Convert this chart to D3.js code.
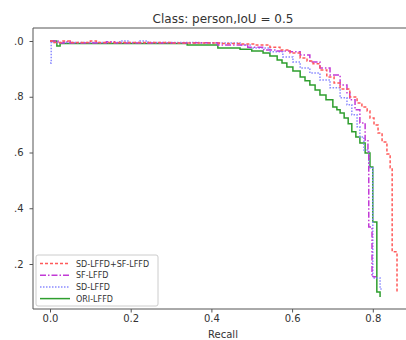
<!DOCTYPE html>
<html>
<head>
<meta charset="utf-8">
<script src="https://cdn.jsdelivr.net/npm/d3@7"></script>
<style>
  body { margin: 0; background: #fff; }
  svg { display: block; font-family: 'DejaVu Sans', sans-serif; }
</style>
</head>
<body>
<div class="main-content"></div>
<script>
// recall / precision pairs, drawn as steps
var seriesNames = ['SD-LFFD+SF-LFFD', 'SF-LFFD', 'SD-LFFD', 'ORI-LFFD']

var redPts = [[0, 1.0], [0.01, 0.995], [0.03, 1.0], [0.05, 0.995], [0.1, 1.0], [0.115, 0.995],
  [0.3, 0.993], [0.42, 0.991], [0.471, 0.989], [0.508, 0.986], [0.545, 0.978], [0.57, 0.968],
  [0.595, 0.957], [0.62, 0.939], [0.637, 0.928], [0.652, 0.918], [0.669, 0.896], [0.686, 0.871],
  [0.704, 0.849], [0.719, 0.828], [0.743, 0.799], [0.761, 0.778], [0.773, 0.763], [0.786, 0.749],
  [0.793, 0.724], [0.803, 0.699], [0.813, 0.67], [0.823, 0.638], [0.835, 0.595], [0.843, 0.545],
  [0.848, 0.244], [0.86, 0.1], [0.86, 0.1]]

var magentaPts = [[0, 1.0], [0.02, 0.993], [0.035, 0.997], [0.05, 0.993], [0.14, 0.997], [0.16, 0.993],
  [0.36, 0.994], [0.416, 0.986], [0.49, 0.978], [0.53, 0.968], [0.56, 0.964], [0.595, 0.961],
  [0.62, 0.95], [0.644, 0.925], [0.669, 0.903], [0.694, 0.878], [0.719, 0.842], [0.736, 0.814],
  [0.743, 0.789], [0.756, 0.753], [0.768, 0.706], [0.781, 0.645], [0.788, 0.602], [0.79, 0.333],
  [0.798, 0.154], [0.808, 0.154]]

var bluePts = [[0, 0.921], [0.003, 1.0], [0.005, 0.995], [0.173, 1.0], [0.193, 0.995], [0.223, 1.0],
  [0.243, 0.995], [0.372, 0.993], [0.471, 0.986], [0.496, 0.975], [0.545, 0.961], [0.577, 0.943],
  [0.602, 0.925], [0.62, 0.903], [0.644, 0.885], [0.669, 0.86], [0.694, 0.832], [0.719, 0.796],
  [0.736, 0.771], [0.748, 0.735], [0.761, 0.692], [0.768, 0.656], [0.778, 0.609], [0.79, 0.545],
  [0.8, 0.15], [0.818, 0.11], [0.822, 0.11]]

var greenPts = [[0, 1.0], [0.017, 0.982], [0.025, 0.991], [0.34, 0.986], [0.416, 0.975], [0.471, 0.97],
  [0.5, 0.964], [0.528, 0.957], [0.545, 0.946], [0.563, 0.932], [0.575, 0.921], [0.587, 0.907],
  [0.602, 0.892], [0.62, 0.871], [0.632, 0.857], [0.644, 0.842], [0.657, 0.824], [0.669, 0.806],
  [0.684, 0.789], [0.701, 0.763], [0.711, 0.753], [0.719, 0.742], [0.729, 0.724], [0.739, 0.703],
  [0.748, 0.674], [0.758, 0.656], [0.768, 0.634], [0.781, 0.598], [0.793, 0.548], [0.8, 0.351],
  [0.81, 0.1], [0.818, 0.082], [0.818, 0.082]]

var xTicks = [0.0, 0.2, 0.4, 0.6, 0.8]
var yTicks = [0.2, 0.4, 0.6, 0.8, 1.0]

const svgWidth = 406
const svgHeight = 340
const plotLeft = 33
const plotRight = 413
const plotTop = 28
const plotBottom = 309

var styles = [
  { color: '#ff5a5a', dash: '3,2' },
  { color: '#c23ad6', dash: '6,2,1.5,2' },
  { color: '#8a8aff', dash: '1.5,1.5' },
  { color: '#2e9e2e', dash: null }
]
var allPts = [redPts, magentaPts, bluePts, greenPts]

var svg = d3.select('.main-content')
  .append('svg')
  .attr('width', svgWidth)
  .attr('height', svgHeight)

var x = d3.scaleLinear().domain([0, 0.8]).range([50, 372.8])
var y = d3.scaleLinear().domain([0.2, 1.0]).range([264, 41])

svg.append('clipPath')
  .attr('id', 'plotClip')
  .append('rect')
  .attr('x', plotLeft)
  .attr('y', plotTop)
  .attr('width', plotRight - plotLeft)
  .attr('height', plotBottom - plotTop)

var line = d3.line()
  .x(function(d) { return x(d[0]) })
  .y(function(d) { return y(d[1]) })
  .curve(d3.curveStepAfter)

// draw green first so red ends up on top like the picture
for (var i = allPts.length - 1; i >= 0; i--) {
  svg.append('path')
    .datum(allPts[i])
    .attr('clip-path', 'url(#plotClip)')
    .attr('fill', 'none')
    .attr('stroke', styles[i].color)
    .attr('stroke-width', 1.5)
    .attr('stroke-dasharray', styles[i].dash)
    .attr('d', line)
}

// spines
svg.append('line')
  .attr('x1', plotLeft).attr('x2', plotLeft)
  .attr('y1', plotTop).attr('y2', plotBottom)
  .attr('stroke', '#555').attr('stroke-width', 1)
svg.append('line')
  .attr('x1', plotLeft).attr('x2', plotRight)
  .attr('y1', plotBottom).attr('y2', plotBottom)
  .attr('stroke', '#555').attr('stroke-width', 1)
svg.append('line')
  .attr('x1', plotLeft).attr('x2', plotRight)
  .attr('y1', plotTop).attr('y2', plotTop)
  .attr('stroke', '#555').attr('stroke-width', 1)

var xAxis = d3.axisBottom(x)
  .tickValues(xTicks)
  .tickSize(3.5)
  .tickPadding(2.5)
  .tickFormat(d3.format('.1f'))
var gx = svg.append('g')
  .attr('transform', 'translate(0,' + plotBottom + ')')
  .call(xAxis)
gx.select('.domain').remove()

// the leading "1"/"0" of the y labels is cut off in the picture
var yAxis = d3.axisLeft(y)
  .tickValues(yTicks)
  .tickSize(3.5)
  .tickPadding(6)
  .tickFormat(function(d) { return d3.format('.1f')(d).slice(1) })
var gy = svg.append('g')
  .attr('transform', 'translate(' + plotLeft + ',0)')
  .call(yAxis)
gy.select('.domain').remove()

svg.selectAll('.tick line').attr('stroke', '#555')
svg.selectAll('.tick text')
  .attr('fill', '#333')
  .style('font-family', "'DejaVu Sans', sans-serif")
  .style('font-size', '10px')

svg.append('text')
  .attr('x', (plotLeft + plotRight) / 2)
  .attr('y', 23)
  .attr('text-anchor', 'middle')
  .attr('fill', '#333')
  .style('font-size', '12px')
  .text('Class: person,IoU = 0.5')

svg.append('text')
  .attr('x', (plotLeft + plotRight) / 2)
  .attr('y', 338)
  .attr('text-anchor', 'middle')
  .attr('fill', '#333')
  .style('font-size', '10px')
  .text('Recall')

// legend
var legend = svg.append('g').attr('transform', 'translate(36,255)')
legend.append('rect')
  .attr('width', 122)
  .attr('height', 51)
  .attr('rx', 2)
  .attr('fill', '#fff')
  .attr('fill-opacity', 0.85)
  .attr('stroke', '#ccc')
var rows = legend.selectAll('.legendRow')
  .data(seriesNames)
  .enter()
  .append('g')
  .attr('class', 'legendRow')
  .attr('transform', function(d, i) { return 'translate(0,' + (8.5 + i * 11.7) + ')' })
rows.append('line')
  .attr('x1', 4).attr('x2', 34)
  .attr('stroke', function(d, i) { return styles[i].color })
  .attr('stroke-width', 1.5)
  .attr('stroke-dasharray', function(d, i) { return styles[i].dash })
rows.append('text')
  .attr('x', 40)
  .attr('y', 3)
  .attr('fill', '#333')
  .style('font-size', '8px')
  .text(function(d) { return d })
</script>
</body>
</html>
